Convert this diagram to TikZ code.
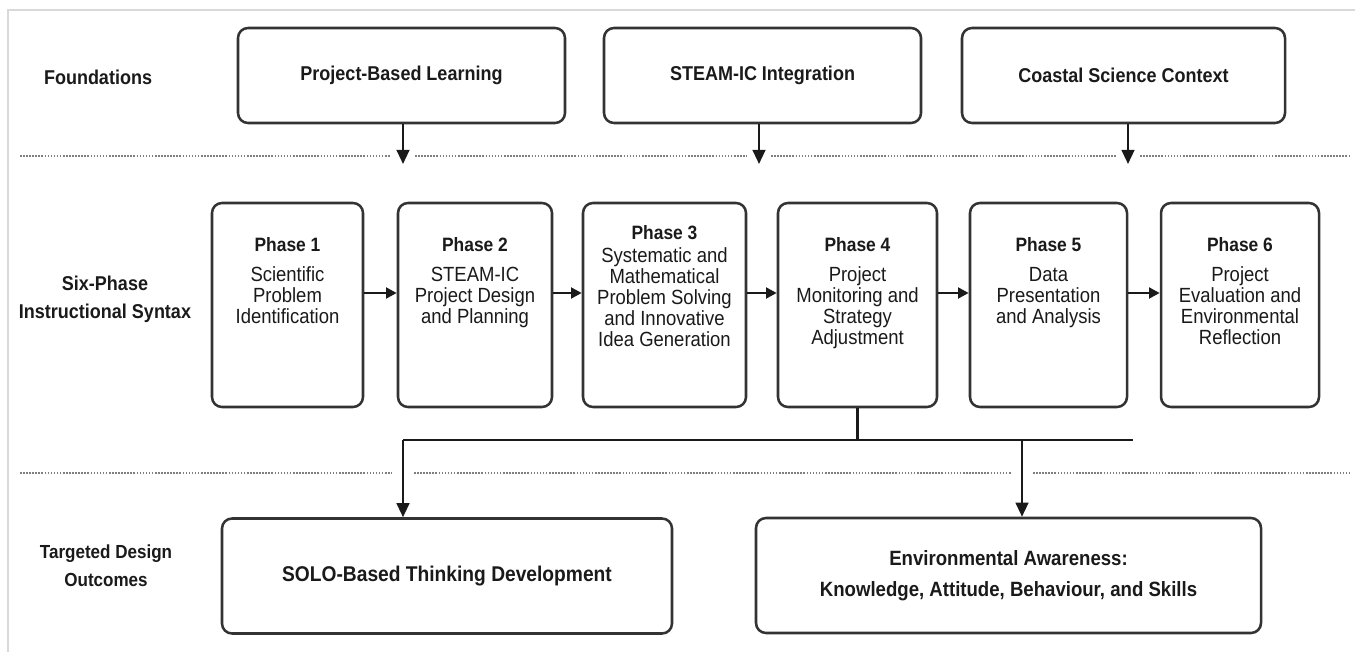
\documentclass[tikz,border=0pt]{standalone}
\usepackage{fontspec}
\setmainfont{Liberation Sans}[FakeStretch=0.9]
\usetikzlibrary{arrows.meta,calc}

\definecolor{boxline}{HTML}{333333}
\definecolor{ink}{HTML}{1A1A1A}
\definecolor{framec}{HTML}{D9D9D9}
\definecolor{dotc}{HTML}{7F7F7F}

% font used for the phase titles
\newcommand\ptitlefont{\bfseries\fontsize{14.5pt}{15.75pt}\selectfont}

\begin{document}
\begin{tikzpicture}[x=0.75pt,y=-0.75pt,
  box/.style={draw=boxline, line width=1.9pt, rounded corners=7.5pt, fill=white,
    inner sep=0pt, text=ink, align=center},
  topbox/.style={box, minimum height=95*0.75pt, font=\bfseries\fontsize{15pt}{16pt}\selectfont},
  phasebox/.style={box, minimum height=204*0.75pt},
  outbox/.style={box, minimum height=115*0.75pt, font=\bfseries\fontsize{15.5pt}{23.5pt}\selectfont},
  ptext/.style={anchor=north, align=center, inner sep=0pt, text=ink,
    font=\fontsize{15.4pt}{15.75pt}\selectfont},
  rowlabel/.style={align=center, inner sep=0pt, text=ink,
    font=\bfseries\fontsize{15pt}{21pt}\selectfont},
  link/.style={draw=ink, line width=1.6pt},
  flow/.style={link, -{Triangle[length=10.5pt,width=9.5pt]}},
  stepflow/.style={link, line width=2pt, -{Triangle[length=8pt,width=8pt]}},
  divider/.style={draw=dotc, line width=1.4pt, dash pattern=on 1.2pt off 1.1pt}
]
\useasboundingbox (0,0) rectangle (1355,652);

% page frame
\draw[framec, line width=1.2pt] (8,652) -- (8,10) -- (1355,10);

% row dividers
\draw[divider] (20,156) -- (391,156) (415,156) -- (747,156) (771,156) -- (1116,156) (1140,156) -- (1350,156);
\draw[divider] (20,473) -- (392,473) (414,473) -- (1011,473) (1033,473) -- (1350,473);

% row labels
\node[rowlabel] (lfound) at (98,77) {Foundations};
\node[rowlabel] (lsyntax) at (105,299) {Six-Phase\\Instructional Syntax};
\node[rowlabel, font=\bfseries\fontsize{14.2pt}{21pt}\selectfont] (lout) at (106,566) {Targeted Design\\Outcomes};

% foundations
\node[topbox, minimum width=327*0.75pt] (pbl) at (401.5,75.5) {Project-Based Learning};
\node[topbox, minimum width=317*0.75pt] (steam) at (762.5,75.5) {STEAM-IC Integration};
\node[topbox, minimum width=323*0.75pt] (coast) at (1123.5,75.5) {Coastal Science Context};

\coordinate (pble) at (403,164);
\coordinate (steame) at (759,164);
\coordinate (coaste) at (1128,164);
\draw[flow] (pbl.south -| pble) -- (pble);
\draw[flow] (steam.south -| steame) -- (steame);
\draw[flow] (coast.south -| coaste) -- (coaste);

% six phases
\node[phasebox, minimum width=151*0.75pt] (p1) at (287.5,305) {};
\node[phasebox, minimum width=154*0.75pt] (p2) at (475,305) {};
\node[phasebox, minimum width=163*0.75pt] (p3) at (664.5,305) {};
\node[phasebox, minimum width=159*0.75pt] (p4) at (857.5,305) {};
\node[phasebox, minimum width=157*0.75pt] (p5) at (1048.5,305) {};
\node[phasebox, minimum width=158*0.75pt] (p6) at (1240,305) {};

\node[ptext] (p1t) at ($(p1.north)+(0,35)$) {{\ptitlefont Phase 1}\\[7pt]Scientific\\Problem\\Identification};
\node[ptext] (p2t) at ($(p2.north)+(0,35)$) {{\ptitlefont Phase 2}\\[7pt]STEAM-IC\\Project Design\\and Planning};
\node[ptext] (p3t) at ($(p3.north)+(0,23)$) {{\ptitlefont Phase 3}\\[2pt]Systematic and\\Mathematical\\Problem Solving\\and Innovative\\Idea Generation};
\node[ptext] (p4t) at ($(p4.north)+(0,35)$) {{\ptitlefont Phase 4}\\[7pt]Project\\Monitoring and\\Strategy\\Adjustment};
\node[ptext] (p5t) at ($(p5.north)+(0,35)$) {{\ptitlefont Phase 5}\\[7pt]Data\\Presentation\\and Analysis};
\node[ptext] (p6t) at ($(p6.north)+(0,35)$) {{\ptitlefont Phase 6}\\[7pt]Project\\Evaluation and\\Environmental\\Reflection};

\coordinate (row) at (0,293);
\draw[stepflow] (p1.east |- row) -- (p2.west |- row);
\draw[stepflow] (p2.east |- row) -- (p3.west |- row);
\draw[stepflow] (p3.east |- row) -- (p4.west |- row);
\draw[stepflow] (p4.east |- row) -- (p5.west |- row);
\draw[stepflow] (p5.east |- row) -- (p6.west |- row);

% outcomes
\node[outbox, minimum width=450*0.75pt, font=\bfseries\fontsize{16pt}{23pt}\selectfont] (solo) at (447,576) {SOLO-Based Thinking Development};
\node[outbox, minimum width=505*0.75pt] (env) at (1008.5,575.5) {Environmental Awareness:\\Knowledge, Attitude, Behaviour, and Skills};

\coordinate (busl) at (403,440);
\coordinate (busr) at (1133,440);
\coordinate (buse) at (1022,440);
\draw[link] (p4.south) -- (p4.south |- busl);
\draw[link] (busl) -- (busr);
\draw[flow] (busl) -- (busl |- solo.north);
\draw[flow] (buse) -- (buse |- env.north);
\end{tikzpicture}
\end{document}
